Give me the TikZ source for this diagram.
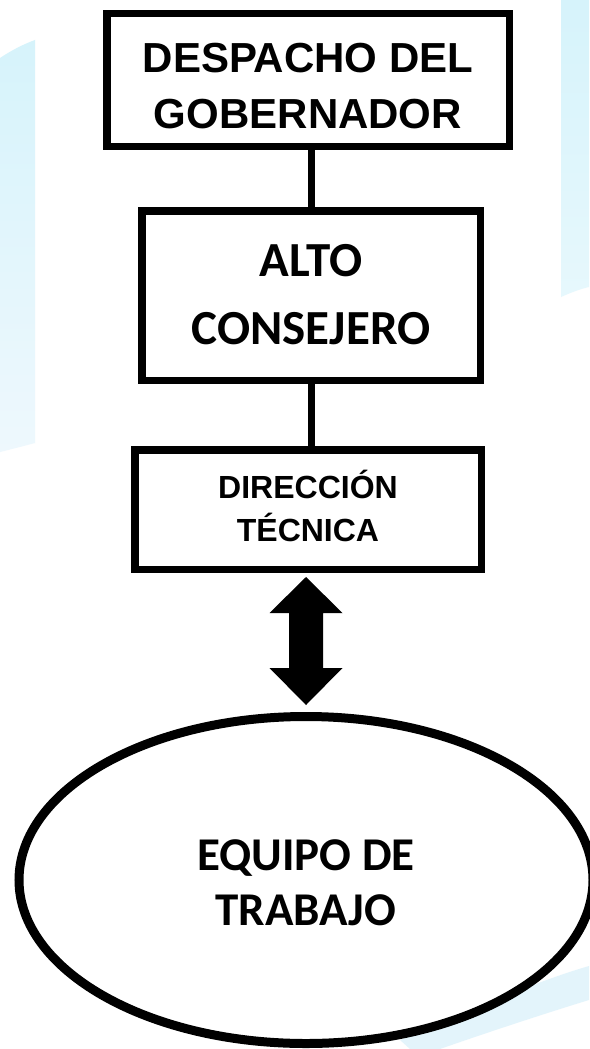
\documentclass[tikz,border=0pt]{standalone}
\usepackage{fontspec}
\usetikzlibrary{shapes.geometric,calc}
\newfontfamily\arialfont{Liberation Sans}
\newfontfamily\calibfont{Carlito}
\definecolor{panelA}{HTML}{D6F3FB}
\definecolor{panelB}{HTML}{EEF8FD}
\definecolor{swoosh}{HTML}{DDF2FA}
\tikzset{
  orgbox/.style={draw=black, line width=7.5pt, fill=white, rectangle, inner sep=0pt, align=center},
  link/.style={draw=black, line width=7pt},
  bigell/.style={draw=black, line width=9pt, ellipse, inner sep=0pt, align=center},
}
\begin{document}
\begin{tikzpicture}[x=1pt,y=-1pt]
\useasboundingbox (0,0) rectangle (589,1049);
\fill[white] (0,0) rectangle (589,1049);
% background panels
\shade[top color=panelA, bottom color=panelB] (0,58) .. controls (12,50) and (24,44) .. (35,40) -- (35,443) .. controls (24,446) and (12,449) .. (0,452) -- cycle;
\shade[top color=panelA, bottom color=panelA!60!white] (561,0) -- (589,0) -- (589,287) .. controls (580,289) and (570,293) .. (561,297) -- cycle;
\fill[swoosh, opacity=0.8] (400,1040) .. controls (470,1010) and (540,980) .. (589,966) -- (589,1000) .. controls (540,1015) and (480,1035) .. (440,1049) -- (410,1049) -- cycle;

% boxes
\node[orgbox, minimum width=402.5pt, minimum height=132.5pt,
      font=\arialfont\bfseries\fontsize{42}{55}\selectfont,
      text height=96pt, text depth=0pt] (b1) at (308,80) {DESPACHO DEL\\GOBERNADOR};
\node[orgbox, minimum width=338.5pt, minimum height=169.5pt,
      font=\calibfont\bfseries\fontsize{49}{68}\selectfont,
      text height=98.6pt, text depth=0pt] (b2) at (311,295.5) {ALTO\\CONSEJERO};
\node[orgbox, minimum width=346.5pt, minimum height=119.5pt,
      font=\arialfont\bfseries\fontsize{32}{43}\selectfont,
      text height=63.9pt, text depth=0pt] (b3) at (308,509.5) {DIRECCIÓN\\TÉCNICA};
\node[bigell, minimum width=574pt, minimum height=327pt,
      font=\calibfont\bfseries\fontsize{47}{55}\selectfont,
      text height=90.3pt, text depth=0pt] (ell) at (306,880) {EQUIPO DE\\TRABAJO};

% connectors
\draw[link] (b2.north) -- (b2.north |- b1.south);
\draw[link] (b3.north -| b2.south) -- (b2.south);

% double block arrow
\coordinate (at) at ($(b3.south)+(-2pt,-4pt)$);
\coordinate (ab) at ($(ell.north)+(0pt,7pt)$);
\fill[black] (at) -- ($(at)+(36.5pt,-36pt)$) -- ($(at)+(17pt,-36pt)$)
  -- ($(ab)+(17pt,37pt)$) -- ($(ab)+(36.5pt,37pt)$) -- (ab)
  -- ($(ab)+(-36.5pt,37pt)$) -- ($(ab)+(-17pt,37pt)$)
  -- ($(at)+(-17pt,-36pt)$) -- ($(at)+(-36.5pt,-36pt)$) -- cycle;
\end{tikzpicture}
\end{document}
